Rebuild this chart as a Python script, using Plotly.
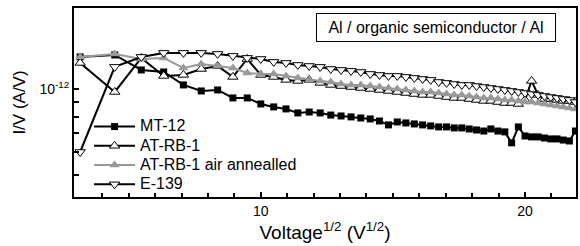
import plotly.graph_objects as go

# x: square root of voltage, voltages 10..480 V in 10 V steps
voltage = [10, 20, 30, 40, 50, 60, 70, 80, 90, 100, 110, 120, 130, 140, 150, 160,
           170, 180, 190, 200, 210, 220, 230, 240, 250, 260, 270, 280, 290, 300, 310, 320,
           330, 340, 350, 360, 370, 380, 390, 400, 410, 420, 430, 440, 450, 460, 470, 480]
sqrt_v = [v ** 0.5 for v in voltage]

# I/V values in units of 1e-12 A/V
mt12 = [1.295, 1.316, 1.166, 1.147, 1.033, 0.984, 0.992, 0.930, 0.930, 0.886, 0.865, 0.851,
        0.824, 0.830, 0.824, 0.810, 0.804, 0.798, 0.791, 0.785, 0.772, 0.748, 0.766, 0.760,
        0.754, 0.748, 0.742, 0.736, 0.736, 0.730, 0.730, 0.724, 0.718, 0.712, 0.724, 0.712,
        0.707, 0.647, 0.736, 0.684, 0.679, 0.679, 0.673, 0.668, 0.668, 0.662, 0.657, 0.712]
atrb1 = [1.234, 0.976, 1.285, 1.111, 1.120, 1.175, 1.204, 1.102, 1.274, 1.120, 1.102, 1.076,
         1.067, 1.076, 1.050, 1.033, 1.024, 1.016, 1.008, 1.000, 0.992, 0.984, 0.976, 0.968,
         0.960, 0.953, 0.953, 0.945, 0.937, 0.930, 0.930, 0.922, 0.915, 0.908, 0.908, 0.900,
         0.893, 0.893, 0.886, 0.915, 1.067, 0.953, 0.922, 0.922, 0.915, 0.908, 0.908, 0.900]
atrb1_air = [1.295, 1.327, 1.274, 1.285, 1.185, 1.224, 1.204, 1.185, 1.138, 1.129, 1.129, 1.111,
             1.093, 1.076, 1.067, 1.058, 1.041, 1.033, 1.033, 1.024, 1.016, 1.008, 1.000, 0.992,
             0.984, 0.976, 0.976, 0.968, 0.960, 0.953, 0.953, 0.945, 0.937, 0.930, 0.930, 0.922,
             0.915, 0.915, 0.908, 0.900, 0.900, 0.893, 0.886, 0.879, 0.872, 0.865, 0.858, 0.851]
e139 = [0.601, 1.195, 1.295, 1.338, 1.338, 1.338, 1.327, 1.306, 1.285, 1.274, 1.244, 1.234,
        1.214, 1.204, 1.195, 1.175, 1.166, 1.157, 1.147, 1.129, 1.120, 1.111, 1.111, 1.102,
        1.093, 1.084, 1.076, 1.058, 1.050, 1.041, 1.033, 1.033, 1.024, 1.016, 1.008, 1.000,
        0.992, 0.984, 0.976, 0.968, 0.960, 0.953, 0.945, 0.937, 0.930, 0.922, 0.915, 0.900]
scale = 1e-12

x_major = [10, 20]
x_major_text = ["10", "20"]
x_minor = list(range(4, 22))
y_major = [1e-12]
y_major_text = ["10<sup>-12</sup>"]
y_minor = [5e-13, 6e-13, 7e-13, 8e-13, 9e-13]

names = ["MT-12", "AT-RB-1", "AT-RB-1 air annealled", "E-139"]


def lbl(s):
    return '<span style="font-size:16px">' + s + "</span>"


GRAY = "#999999"
fig = go.Figure()
fig.add_trace(go.Scatter(x=sqrt_v, y=[v * scale for v in mt12], name=lbl(names[0]), mode="lines+markers",
                         line=dict(color="black", width=2),
                         marker=dict(symbol="square", size=7, color="black")))
fig.add_trace(go.Scatter(x=sqrt_v, y=[v * scale for v in atrb1], name=lbl(names[1]), mode="lines+markers",
                         line=dict(color="black", width=2),
                         marker=dict(symbol="triangle-up", size=9, color="white",
                                     line=dict(color="black", width=1))))
fig.add_trace(go.Scatter(x=sqrt_v, y=[v * scale for v in atrb1_air], name=lbl(names[2]),
                         mode="lines+markers", line=dict(color=GRAY, width=2),
                         marker=dict(symbol="triangle-up", size=9, color=GRAY)))
fig.add_trace(go.Scatter(x=sqrt_v, y=[v * scale for v in e139], name=lbl(names[3]), mode="lines+markers",
                         line=dict(color="black", width=2),
                         marker=dict(symbol="triangle-down", size=9, color="white",
                                     line=dict(color="black", width=1))))

fig.update_layout(
    width=580, height=246,
    margin=dict(l=74, r=2, t=8, b=49),
    paper_bgcolor="white", plot_bgcolor="white",
    font=dict(family="Liberation Sans, Arial, sans-serif", color="black", size=14),
    showlegend=True,
    legend=dict(x=0.03, y=0.45, xanchor="left", yanchor="top", bgcolor="rgba(0,0,0,0)",
                font=dict(size=12.5), tracegroupgap=0, itemwidth=41),
    xaxis=dict(range=[2.93, 21.93], tickmode="array", tickvals=x_major, ticktext=x_major_text,
               ticks="inside", ticklen=5, tickwidth=1.5, tickcolor="black",
               minor=dict(tickvals=x_minor, ticks="inside", ticklen=4, tickwidth=1.5, tickcolor="black",
                          showgrid=False),
               showline=True, linecolor="black", linewidth=2, mirror=True,
               showgrid=False, zeroline=False, tickfont=dict(size=14),
               title=dict(text="Voltage<sup>1/2</sup> (V<sup>1/2</sup>)", font=dict(size=19), standoff=4)),
    yaxis=dict(type="log", range=[-12.379, -11.716], tickmode="array",
               tickvals=y_major, ticktext=y_major_text,
               ticks="inside", ticklen=5, tickwidth=1.5, tickcolor="black",
               minor=dict(tickvals=y_minor, ticks="inside", ticklen=5, tickwidth=1.5, tickcolor="black",
                          showgrid=False),
               showline=True, linecolor="black", linewidth=2, mirror=True,
               showgrid=False, zeroline=False, tickfont=dict(size=14),
               title=dict(text="I/V (A/V)", font=dict(size=17), standoff=10)),
    annotations=[dict(text="Al / organic semiconductor / Al", xref="paper", yref="paper",
                      x=0.722, y=0.895, xanchor="center", yanchor="middle", showarrow=False,
                      font=dict(size=16), bordercolor="black", borderwidth=1, borderpad=5,
                      bgcolor="white", width=228)],
)

fig.write_html("out.html", config={"displayModeBar": False},
               post_script="document.body.style.margin='0';")
